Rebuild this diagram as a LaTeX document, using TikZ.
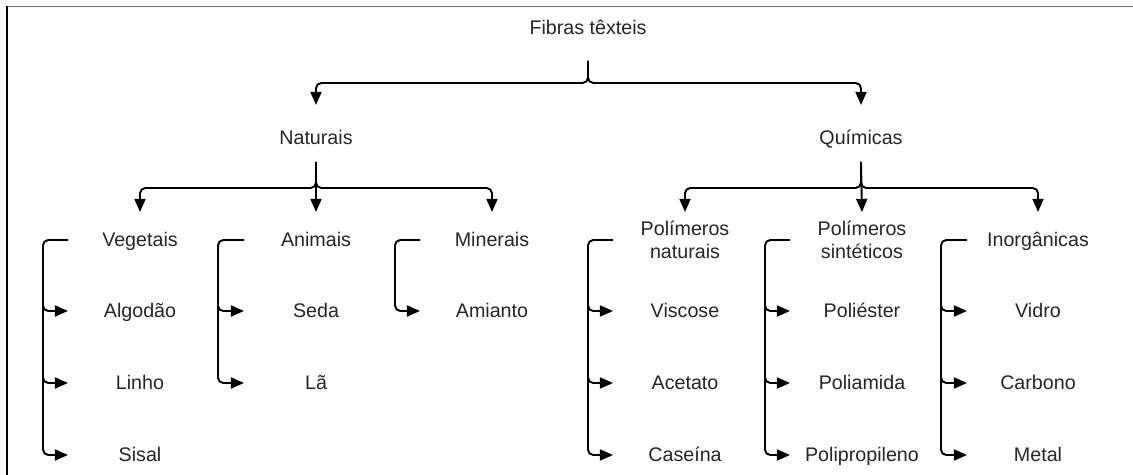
\documentclass[tikz,border=0pt]{standalone}
\usepackage{fontspec}
\setmainfont{Liberation Sans}
\usetikzlibrary{arrows.meta,calc}
\begin{document}
\begin{tikzpicture}[x=0.02cm,y=-0.02cm,
  lbl2/.style={font=\fontsize{11.2}{13.4}\selectfont, text=black!85, inner sep=0pt, align=center},
  lbl/.style={lbl2, text height=8.6pt, text depth=1.2pt},
  conn/.style={line width=1.1pt, rounded corners=3pt},
  arr/.style={conn, -{Triangle[length=7.5pt,width=6.3pt]}}]
\useasboundingbox (0,0) rectangle (1133,475);
\draw[line width=0.9pt, black!55] (7,6.5) -- (1133,6.5);
\draw[line width=0.7pt] (7,6) -- (7,475);

% nodes
\node[lbl] (root) at (588,28) {Fibras têxteis};
\node[lbl] (nat) at (316,138) {Naturais};
\node[lbl] (qui) at (861,138) {Químicas};
\node[lbl] (veg) at (140,240) {Vegetais};
\node[lbl] (ani) at (316,240) {Animais};
\node[lbl] (min) at (492,240) {Minerais};
\node[lbl2] (pn) at (685,240) {Polímeros\\naturais};
\node[lbl2] (ps) at (862,240) {Polímeros\\sintéticos};
\node[lbl] (ino) at (1038,240) {Inorgânicas};
\node[lbl] (alg) at (140,311) {Algodão};
\node[lbl] (lin) at (140,383) {Linho};
\node[lbl] (sis) at (140,455) {Sisal};
\node[lbl] (sed) at (316,311) {Seda};
\node[lbl] (la) at (316,383) {Lã};
\node[lbl] (ami) at (492,311) {Amianto};
\node[lbl] (vis) at (685,311) {Viscose};
\node[lbl] (ace) at (685,383) {Acetato};
\node[lbl] (cas) at (685,455) {Caseína};
\node[lbl] (pol) at (862,311) {Poliéster};
\node[lbl] (pam) at (862,383) {Poliamida};
\node[lbl] (ppr) at (862,455) {Polipropileno};
\node[lbl] (vid) at (1038,311) {Vidro};
\node[lbl] (car) at (1038,383) {Carbono};
\node[lbl] (met) at (1038,455) {Metal};

% level 1
\coordinate (r0) at (root.south |- 0,61);
\coordinate (r1) at (root.south |- 0,83);
\draw[arr] (r0) -- (r1) -| (nat.north |- 0,105);
\draw[arr] (r0) -- (r1) -| (qui.north |- 0,105);

% level 2 naturais
\coordinate (n0) at (nat.south |- 0,162);
\coordinate (n1) at (nat.south |- 0,188);
\draw[arr] (n0) -- (n1) -| (veg.north |- 0,212);
\draw[arr] (n0) -- (ani.north |- 0,212);
\draw[arr] (n0) -- (n1) -| (min.north |- 0,212);

% level 2 quimicas
\coordinate (q0) at (qui.south |- 0,162);
\coordinate (q1) at (qui.south |- 0,188);
\draw[arr] (q0) -- (q1) -| (pn.north |- 0,212);
\draw[arr] (q0) -- (ps.north |- 0,212);
\draw[arr] (q0) -- (q1) -| (ino.north |- 0,212);

% brackets
\draw[arr] ($(veg)+(-72,0)$) -- ($(veg)+(-97,0)$) |- ($(sis)+(-72,0)$);
\draw[arr] ($(alg)+(-97,-12)$) |- ($(alg)+(-72,0)$);
\draw[arr] ($(lin)+(-97,-12)$) |- ($(lin)+(-72,0)$);

\draw[arr] ($(ani)+(-72,0)$) -- ($(ani)+(-98,0)$) |- ($(la)+(-72,0)$);
\draw[arr] ($(sed)+(-98,-12)$) |- ($(sed)+(-72,0)$);

\draw[arr] ($(min)+(-72,0)$) -- ($(min)+(-97,0)$) |- ($(ami)+(-72,0)$);

\draw[arr] ($(pn)+(-72,0)$) -- ($(pn)+(-97,0)$) |- ($(cas)+(-72,0)$);
\draw[arr] ($(vis)+(-97,-12)$) |- ($(vis)+(-72,0)$);
\draw[arr] ($(ace)+(-97,-12)$) |- ($(ace)+(-72,0)$);

\draw[arr] ($(ps)+(-72,0)$) -- ($(ps)+(-97,0)$) |- ($(ppr)+(-72,0)$);
\draw[arr] ($(pol)+(-97,-12)$) |- ($(pol)+(-72,0)$);
\draw[arr] ($(pam)+(-97,-12)$) |- ($(pam)+(-72,0)$);

\draw[arr] ($(ino)+(-71,0)$) -- ($(ino)+(-97,0)$) |- ($(met)+(-71,0)$);
\draw[arr] ($(vid)+(-97,-12)$) |- ($(vid)+(-71,0)$);
\draw[arr] ($(car)+(-97,-12)$) |- ($(car)+(-71,0)$);
\end{tikzpicture}
\end{document}
